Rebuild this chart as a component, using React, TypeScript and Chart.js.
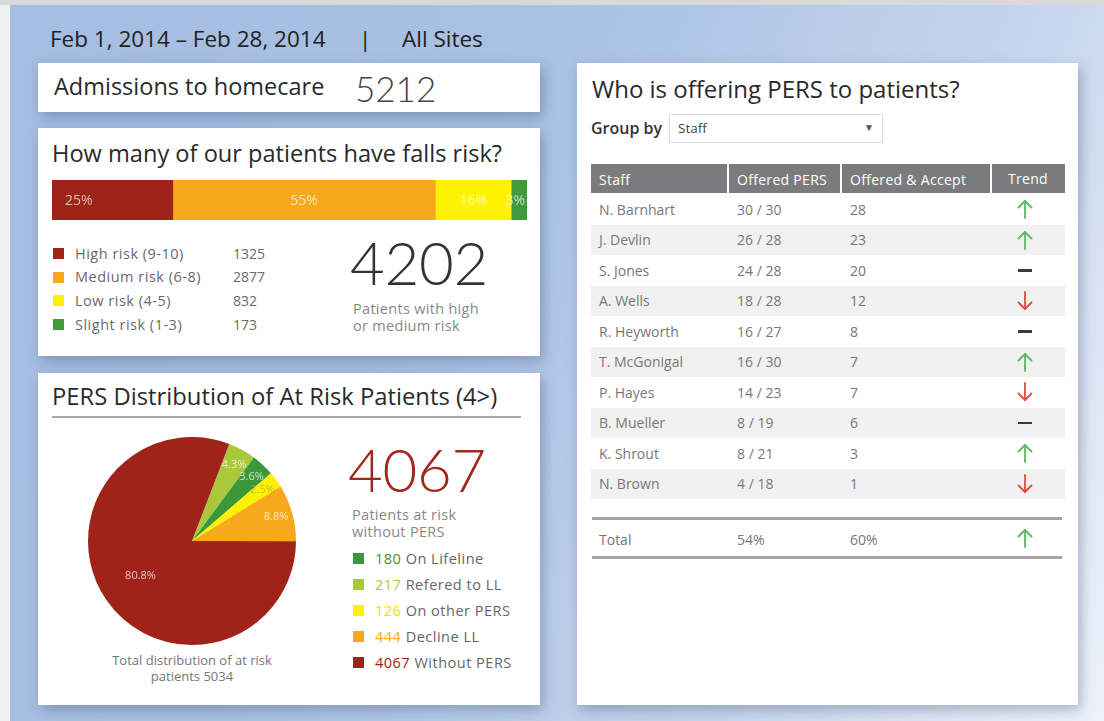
import React, { useEffect, useRef } from "react";
import { Chart, registerables } from "chart.js";

Chart.register(...registerables);

// ---------- Data ----------
const riskLabels = ["High risk (9-10)", "Medium risk (6-8)", "Low risk (4-5)", "Slight risk (1-3)"];
const riskCounts = [1325, 2877, 832, 173];
const riskColors = ["#a0231a", "#f8a81c", "#fff200", "#3f9b3c"];

const persLabels = ["Refered to LL", "On Lifeline", "On other PERS", "Decline LL", "Without PERS"];
const persCounts = [217, 180, 126, 444, 4067];
const persColors = ["#a9c93b", "#3b973a", "#fff200", "#f8a81c", "#a0231a"];
// legend order in the card
const persLegendOrder = [1, 0, 2, 3, 4];

const staffNames = ["N. Barnhart", "J. Devlin", "S. Jones", "A. Wells", "R. Heyworth", "T. McGonigal", "P. Hayes", "B. Mueller", "K. Shrout", "N. Brown"];
const offeredCounts = [30, 26, 24, 18, 16, 16, 14, 8, 8, 4];
const staffTotals = [30, 28, 28, 28, 27, 30, 23, 19, 21, 18];
const acceptedCounts = [28, 23, 20, 12, 8, 7, 7, 6, 3, 1];
const trends = ["up", "up", "flat", "down", "flat", "up", "down", "flat", "up", "down"];
const tableHeaders = ["Staff", "Offered PERS", "Offered & Accept", "Trend"];
const totalRow = ["Total", "54%", "60%", "up"];

const admissions = 5212;
const highMediumTotal = 4202;
const withoutPers = 4067;
const atRiskTotal = 5034;

const FONT = "'Open Sans', sans-serif";
const NUMFONT = "Lato, 'Open Sans', sans-serif";

// ---------- Charts ----------
function RiskBar() {
  const ref = useRef<HTMLCanvasElement>(null);
  useEffect(() => {
    const total = riskCounts.reduce((a, b) => a + b, 0);
    const labelPlugin = {
      id: "segLabels",
      afterDatasetsDraw(chart: any) {
        const ctx = chart.ctx;
        ctx.save();
        ctx.font = `14px ${FONT}`;
        ctx.fillStyle = "rgba(255,255,255,0.68)";
        ctx.textBaseline = "middle";
        chart.data.datasets.forEach((ds: any, i: number) => {
          const el: any = chart.getDatasetMeta(i).data[0];
          const v = ds.data[0];
          const txt = Math.round((v / total) * 100) + "%";
          const w = ctx.measureText(txt).width;
          const start = Math.min(el.base, el.x);
          const end = Math.max(el.base, el.x);
          let cx: number;
          if (i === 0) {
            cx = start + 13 + w / 2;
          } else {
            cx = (start + end) / 2;
            cx = Math.min(cx, chart.chartArea.right - w / 2 - 2);
          }
          ctx.textAlign = "center";
          ctx.fillText(txt, cx, el.y + 1);
        });
        ctx.restore();
      },
    };
    const chart = new Chart(ref.current!, {
      type: "bar",
      data: {
        labels: ["Falls risk"],
        datasets: riskLabels.map((l, i) => ({
          label: l,
          data: [riskCounts[i]],
          backgroundColor: riskColors[i],
          borderWidth: 0,
          barPercentage: 1,
          categoryPercentage: 1,
        })),
      },
      options: {
        indexAxis: "y",
        responsive: false,
        animation: false,
        devicePixelRatio: 1,
        layout: { padding: 0 },
        plugins: { legend: { display: false }, tooltip: { enabled: false } },
        scales: {
          x: { stacked: true, display: false, min: 0, max: total },
          y: { stacked: true, display: false },
        },
      },
      plugins: [labelPlugin],
    } as any);
    return () => chart.destroy();
  }, []);
  return <canvas ref={ref} width={475} height={40} style={{ position: "absolute", left: 52, top: 180, width: 475, height: 40 }} />;
}

function PersPie() {
  const ref = useRef<HTMLCanvasElement>(null);
  useEffect(() => {
    const total = persCounts.reduce((a, b) => a + b, 0);
    const maxIdx = persCounts.indexOf(Math.max(...persCounts));
    const labelPlugin = {
      id: "pieLabels",
      afterDatasetsDraw(chart: any) {
        const ctx = chart.ctx;
        ctx.save();
        ctx.font = `11px ${FONT}`;
        ctx.textAlign = "center";
        ctx.textBaseline = "middle";
        chart.getDatasetMeta(0).data.forEach((arc: any, i: number) => {
          const p = arc.getProps(["x", "y", "startAngle", "endAngle", "outerRadius"], true);
          const mid = (p.startAngle + p.endAngle) / 2;
          const rf = i === maxIdx ? 0.6 : 0.84;
          const x = p.x + Math.cos(mid) * p.outerRadius * rf;
          const y = p.y + Math.sin(mid) * p.outerRadius * rf;
          const txt = ((persCounts[i] / total) * 100).toFixed(1) + "%";
          ctx.fillStyle = i === 2 ? "rgba(200,180,40,0.9)" : "rgba(255,255,255,0.72)";
          ctx.fillText(txt, x, y);
        });
        ctx.restore();
      },
    };
    const chart = new Chart(ref.current!, {
      type: "pie",
      data: {
        labels: persLabels,
        datasets: [{ data: persCounts, backgroundColor: persColors, borderWidth: 0 }],
      },
      options: {
        responsive: false,
        animation: false,
        devicePixelRatio: 1,
        rotation: 21,
        layout: { padding: 0 },
        plugins: { legend: { display: false }, tooltip: { enabled: false } },
      },
      plugins: [labelPlugin],
    } as any);
    return () => chart.destroy();
  }, []);
  return <canvas ref={ref} width={208} height={208} style={{ position: "absolute", left: 88, top: 437, width: 208, height: 208 }} />;
}

// ---------- Helpers ----------
const abs = (left: number, top: number, extra: React.CSSProperties = {}): React.CSSProperties => ({
  position: "absolute",
  left,
  top,
  whiteSpace: "nowrap",
  ...extra,
});

function Txt(props: { x: number; cy: number; size: number; color?: string; weight?: number; lh?: number; font?: string; ls?: number; children: React.ReactNode; style?: React.CSSProperties }) {
  const lh = props.lh ?? Math.round(props.size * 1.2);
  return (
    <div
      style={abs(props.x, props.cy - lh / 2, {
        fontSize: props.size,
        lineHeight: lh + "px",
        color: props.color ?? "#333",
        fontWeight: props.weight ?? 400,
        fontFamily: props.font ?? FONT,
        letterSpacing: props.ls ?? 0,
        ...(props.style || {}),
      })}
    >
      {props.children}
    </div>
  );
}

function Trend({ kind, cx, cy }: { kind: string; cx: number; cy: number }) {
  if (kind === "flat") {
    return <div style={abs(cx - 7, cy - 1, { width: 14, height: 2.5, background: "#3a3a3a" })} />;
  }
  const color = kind === "up" ? "#5fb562" : "#e6493f";
  const up = kind === "up";
  return (
    <svg width={16} height={20} style={abs(cx - 8, cy - 10)} viewBox="0 0 16 20">
      {up ? (
        <g stroke={color} strokeWidth={1.8} fill="none" strokeLinecap="round" strokeLinejoin="round">
          <line x1={8} y1={19} x2={8} y2={2} />
          <polyline points="1.5,8.5 8,2 14.5,8.5" />
        </g>
      ) : (
        <g stroke={color} strokeWidth={1.8} fill="none" strokeLinecap="round" strokeLinejoin="round">
          <line x1={8} y1={1} x2={8} y2={18} />
          <polyline points="1.5,11.5 8,18 14.5,11.5" />
        </g>
      )}
    </svg>
  );
}

const card = (left: number, top: number, width: number, height: number): React.CSSProperties => ({
  position: "absolute",
  left,
  top,
  width,
  height,
  background: "#fff",
  boxShadow: "3px 5px 12px rgba(50,70,110,0.35)",
});

// ---------- App ----------
export default function App() {
  useEffect(() => {
    document.body.style.margin = "0";
  }, []);

  const colX = [591, 728, 841, 991, 1065];
  const rowTop = 194;
  const rowH = 30.5;

  return (
    <div
      style={{
        position: "relative",
        width: 1104,
        height: 721,
        overflow: "hidden",
        fontFamily: FONT,
        background: "#eef0f4",
      }}
    >
      <div style={{ position: "absolute", left: 0, top: 0, width: 1104, height: 5, background: "#d9d9d9" }} />
      <div
        style={{
          position: "absolute",
          left: 10,
          top: 5,
          width: 1094,
          height: 716,
          background: "linear-gradient(115deg, #a4bde1 0%, #a9c1e3 40%, #c5d5ed 72%, #eef3fa 100%)",
        }}
      />

      {/* Header */}
      <Txt x={50} cy={38} size={22.5} color="#222">Feb 1, 2014 – Feb 28, 2014</Txt>
      <Txt x={359} cy={38} size={22.5} color="#222">|</Txt>
      <Txt x={402} cy={38} size={22.5} color="#222">All Sites</Txt>

      {/* Card A */}
      <div style={card(38, 63, 502, 49)} />
      <Txt x={54} cy={86} size={23.5} color="#2a2a2a">Admissions to homecare</Txt>
      <Txt x={355} cy={88} size={35} color="#444" weight={300} font={NUMFONT} lh={36}>{admissions}</Txt>

      {/* Card B */}
      <div style={card(38, 128, 502, 228)} />
      <Txt x={52} cy={153} size={23.6} color="#2a2a2a">How many of our patients have falls risk?</Txt>
      <RiskBar />
      {riskLabels.map((l, i) => (
        <React.Fragment key={l}>
          <div style={abs(53, 248 + i * 23.7, { width: 11, height: 11, background: riskColors[i] })} />
          <Txt x={75} cy={253.5 + i * 23.7} size={14.5} color="#6a6a6a" ls={0.5} lh={18}>{l}</Txt>
          <Txt x={233} cy={253.5 + i * 23.7} size={14} color="#6a6a6a" lh={18}>{riskCounts[i]}</Txt>
        </React.Fragment>
      ))}
      <Txt x={350} cy={262} size={60} color="#333" weight={300} font={NUMFONT} lh={44} style={{ letterSpacing: -0.3 }}>{highMediumTotal}</Txt>
      <div style={abs(353, 300, { fontSize: 14.5, lineHeight: "17px", color: "#888", letterSpacing: 0.3 })}>
        Patients with high
        <br />
        or medium risk
      </div>

      {/* Card C */}
      <div style={card(38, 373, 502, 332)} />
      <Txt x={52} cy={396} size={23.8} color="#2a2a2a">PERS Distribution of At Risk Patients (4&gt;)</Txt>
      <div style={abs(52, 416, { width: 469, height: 2, background: "#a8a8a8" })} />
      <PersPie />
      <div style={abs(72, 652, { width: 240, textAlign: "center", fontSize: 13, lineHeight: "16px", color: "#777", whiteSpace: "normal" })}>
        Total distribution of at risk
        <br />
        patients {atRiskTotal}
      </div>
      <Txt x={348} cy={469} size={60} color="#a2271c" weight={300} font={NUMFONT} lh={44} style={{ letterSpacing: -0.3 }}>{withoutPers}</Txt>
      <div style={abs(352, 506, { fontSize: 14.5, lineHeight: "17px", color: "#888", letterSpacing: 0.3 })}>
        Patients at risk
        <br />
        without PERS
      </div>
      {persLegendOrder.map((idx, i) => (
        <React.Fragment key={persLabels[idx]}>
          <div style={abs(353, 553 + i * 26, { width: 11, height: 11, background: persColors[idx] })} />
          <Txt x={375} cy={558.5 + i * 26} size={14.5} color="#666" ls={0.5} lh={18}>
            <span style={{ color: idx === 2 ? "#f2e200" : persColors[idx] }}>{persCounts[idx]}</span> {persLabels[idx]}
          </Txt>
        </React.Fragment>
      ))}

      {/* Card D */}
      <div style={card(577, 63, 501, 642)} />
      <Txt x={592} cy={88} size={24} color="#2a2a2a">Who is offering PERS to patients?</Txt>
      <Txt x={591} cy={128} size={16} color="#333" weight={600}>Group by</Txt>
      <div style={abs(669, 114, { width: 212, height: 27, border: "1px solid #dcdcdc", background: "#fff" })} />
      <Txt x={678} cy={128} size={13.5} color="#444">Staff</Txt>
      <Txt x={864} cy={127} size={10} color="#555">▼</Txt>

      {/* table header */}
      <div style={abs(591, 164, { width: 474, height: 29, background: "#7b7b7d" })} />
      {[1, 2, 3].map((c) => (
        <div key={c} style={abs(colX[c] - 1, 164, { width: 2, height: 29, background: "#fff" })} />
      ))}
      {tableHeaders.map((h, c) =>
        c === 3 ? (
          <div key={h} style={abs(colX[3], 170, { width: colX[4] - colX[3], textAlign: "center", fontSize: 14, lineHeight: "18px", color: "#fff", letterSpacing: 0.3 })}>
            {h}
          </div>
        ) : (
          <Txt key={h} x={colX[c] + (c === 0 ? 8 : 9)} cy={179} size={14} color="#fff" ls={0.3}>{h}</Txt>
        )
      )}

      {/* table rows */}
      {staffNames.map((n, r) => {
        const top = rowTop + r * rowH;
        const cy = top + rowH / 2;
        return (
          <React.Fragment key={n}>
            {r % 2 === 1 && <div style={abs(591, top, { width: 474, height: rowH, background: "#f1f1f1" })} />}
            <Txt x={599} cy={cy} size={14} color="#777">{n}</Txt>
            <Txt x={737} cy={cy} size={14} color="#777">{`${offeredCounts[r]} / ${staffTotals[r]}`}</Txt>
            <Txt x={850} cy={cy} size={14} color="#777">{acceptedCounts[r]}</Txt>
            <Trend kind={trends[r]} cx={1025} cy={cy} />
          </React.Fragment>
        );
      })}

      {/* total */}
      <div style={abs(592, 517, { width: 470, height: 2.5, background: "#a5a5a5" })} />
      <Txt x={599} cy={539} size={14} color="#777">{totalRow[0]}</Txt>
      <Txt x={737} cy={539} size={14} color="#777">{totalRow[1]}</Txt>
      <Txt x={850} cy={539} size={14} color="#777">{totalRow[2]}</Txt>
      <Trend kind={totalRow[3]} cx={1025} cy={538} />
      <div style={abs(592, 556, { width: 470, height: 2.5, background: "#a5a5a5" })} />
    </div>
  );
}
